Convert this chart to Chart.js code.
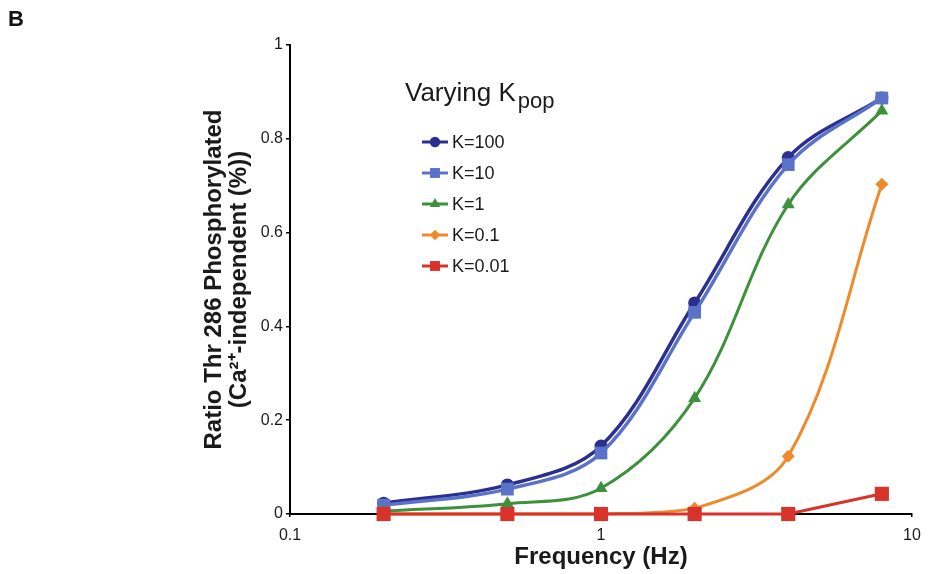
<!DOCTYPE html>
<html>
<head>
<meta charset="utf-8">
<script src="https://cdn.jsdelivr.net/npm/chart.js@4"></script>
<style>
  html, body { margin: 0; padding: 0; background: #fff; }
  #wrap { position: relative; width: 928px; height: 574px; }
  #panel { position: absolute; left: 8px; top: 6px; font: bold 22px "Liberation Sans", Arial, sans-serif; color: #111; }
</style>
</head>
<body>
<div id="wrap">
  <canvas id="chart" width="928" height="574"></canvas>
  <div id="panel">B</div>
</div>
<script>
// frequencies (Hz)
const freqs = [0.2, 0.5, 1, 2, 4, 8];
const xTicks = [0.1, 1, 10];
const yTicks = [0, 0.2, 0.4, 0.6, 0.8, 1];

// ratio phosphorylated, one array per K_pop
const k100 = [0.023, 0.062, 0.145, 0.45, 0.76, 0.887];
const k10 = [0.019, 0.053, 0.13, 0.43, 0.745, 0.887];
const k1 = [0.006, 0.022, 0.055, 0.247, 0.66, 0.86];
const k01 = [0, 0, 0, 0.012, 0.123, 0.703];
const k001 = [0, 0, 0, 0, 0, 0.043];

const FONT = '"Liberation Sans", Arial, sans-serif';

function pts(vals) {
  return freqs.map((f, i) => ({ x: f, y: vals[i] }));
}

function series(label, vals, color, style, radius, width, tension, order) {
  return {
    label: label,
    data: pts(vals),
    borderColor: color,
    backgroundColor: color,
    pointStyle: style,
    pointRadius: radius,
    pointBorderWidth: 0,
    borderWidth: width,
    tension: tension,
    order: order,
    clip: false
  };
}

const datasets = [
  series('K=100', k100, '#2b2f8f', 'circle', 6.5, 3.5, 0.35, 5),
  series('K=10', k10, '#5b72c9', 'rect', 9, 3.5, 0.35, 4),
  series('K=1', k1, '#3d913d', 'triangle', 7.5, 3, 0.35, 3),
  series('K=0.1', k01, '#ef8a2b', 'rectRot', 6.5, 3, 0.35, 2),
  series('K=0.01', k001, '#d8332a', 'rect', 10, 3, 0, 1)
];

// legend drawn inside the plot, like the original
const innerLegend = {
  id: 'innerLegend',
  afterDraw(chart) {
    const ctx = chart.ctx;
    ctx.save();
    ctx.fillStyle = '#1a1a1a';
    ctx.textBaseline = 'alphabetic';
    ctx.font = '26px ' + FONT;
    ctx.fillText('Varying K', 405, 101);
    const w = ctx.measureText('Varying K').width;
    ctx.font = '22px ' + FONT;
    ctx.fillText('pop', 405 + w + 2, 108);

    chart.data.datasets.forEach((ds, i) => {
      const y = 142 + i * 31;
      ctx.strokeStyle = ds.borderColor;
      ctx.lineWidth = 3;
      ctx.beginPath();
      ctx.moveTo(422, y);
      ctx.lineTo(448, y);
      ctx.stroke();
      ctx.fillStyle = ds.backgroundColor;
      Chart.helpers.drawPoint(ctx, { pointStyle: ds.pointStyle, radius: Math.min(ds.pointRadius * 0.8, 7), borderWidth: 0 }, 435, y);
      ctx.fillStyle = '#1a1a1a';
      ctx.font = '18px ' + FONT;
      ctx.textBaseline = 'middle';
      ctx.fillText(ds.label, 452, y + 1);
    });
    ctx.restore();
  }
};

new Chart(document.getElementById('chart'), {
  type: 'line',
  data: { datasets: datasets },
  options: {
    responsive: false,
    animation: false,
    layout: { padding: { left: 190, top: 45, right: 16, bottom: 0 } },
    plugins: {
      legend: { display: false },
      tooltip: { enabled: false }
    },
    scales: {
      x: {
        type: 'logarithmic',
        min: 0.1,
        max: 10,
        afterBuildTicks(scale) {
          scale.ticks = xTicks.map(v => ({ value: v }));
        },
        afterFit(scale) {
          scale.height = 60;
          scale.paddingLeft = 0;
          scale.paddingRight = 0;
        },
        ticks: {
          color: '#1a1a1a',
          font: { family: FONT, size: 16 },
          padding: 9,
          maxRotation: 0,
          callback: v => String(v)
        },
        grid: { drawOnChartArea: false, drawTicks: true, tickLength: 3, color: '#000', lineWidth: 1.5 },
        border: { display: true, color: '#000', width: 2 },
        title: {
          display: true,
          text: 'Frequency (Hz)',
          color: '#1a1a1a',
          font: { family: FONT, size: 24, weight: 'bold', lineHeight: 1.05 },
          padding: { top: 0, bottom: 4 }
        }
      },
      y: {
        type: 'linear',
        min: 0,
        max: 1,
        afterBuildTicks(scale) {
          scale.ticks = yTicks.map(v => ({ value: v }));
        },
        afterFit(scale) { scale.width = 100; },
        ticks: {
          color: '#1a1a1a',
          font: { family: FONT, size: 16 },
          padding: 3,
          callback: v => String(Math.round(v * 10) / 10)
        },
        grid: { drawOnChartArea: false, drawTicks: true, tickLength: 4, color: '#000', lineWidth: 1.5 },
        border: { display: true, color: '#000', width: 2 },
        title: {
          display: true,
          text: ['Ratio Thr 286 Phosphorylated', '(Ca\u00b2\u207a-independent (%))'],
          color: '#1a1a1a',
          font: { family: FONT, size: 24, weight: 'bold', lineHeight: 1.05 },
          padding: { top: 12, bottom: 0 }
        }
      }
    }
  },
  plugins: [innerLegend]
});
</script>
</body>
</html>
